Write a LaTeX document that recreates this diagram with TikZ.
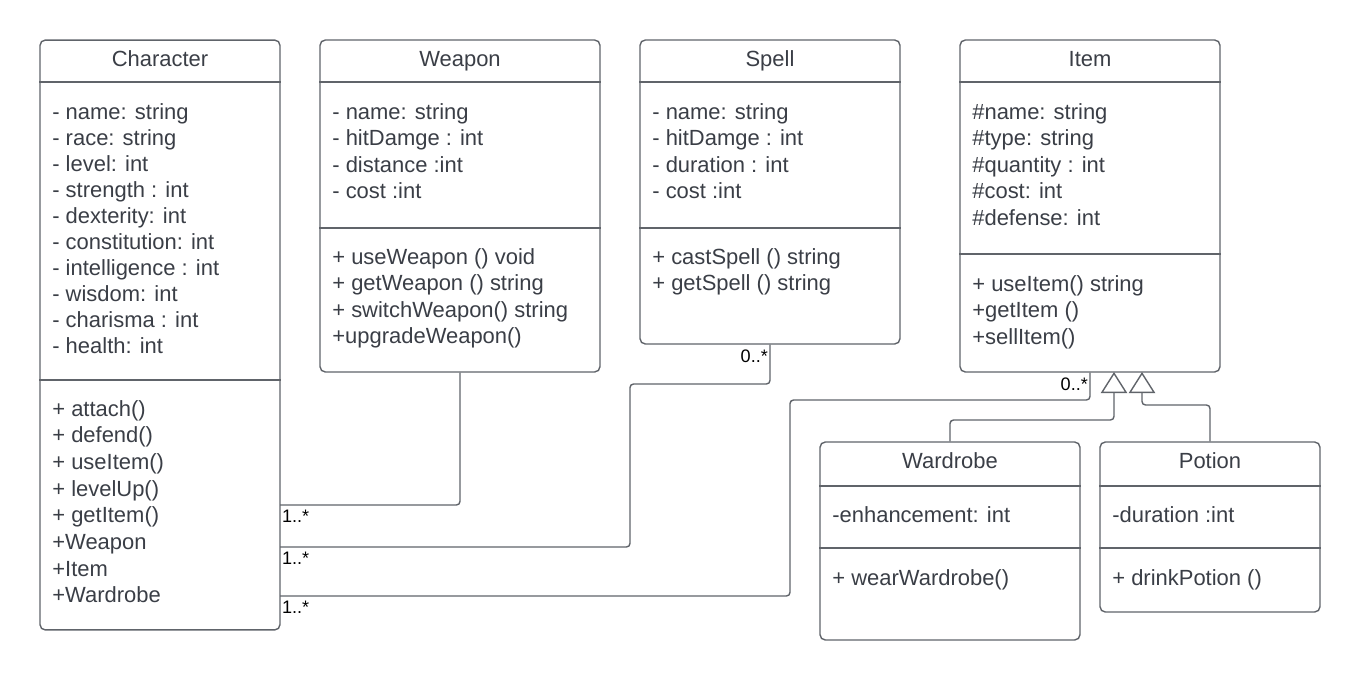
\documentclass[tikz,border=0pt]{standalone}
\usepackage{fontspec}
\setmainfont{Liberation Sans}
\usetikzlibrary{arrows.meta}

\definecolor{textc}{RGB}{58,62,70}
\definecolor{linec}{RGB}{96,100,106}

\tikzset{
  classbox/.style={draw=linec, line width=0.8pt, rounded corners=3pt, inner sep=0pt},
  title/.style={text=textc, font=\fontsize{12.5}{15}\selectfont, anchor=base, inner sep=0pt},
  member/.style={text=textc, font=\fontsize{12.5}{15}\selectfont, anchor=base west, inner sep=0pt},
  sep/.style={draw=linec, line width=0.8pt},
  assoc/.style={draw=linec, line width=0.8pt, rounded corners=2pt},
  inherit/.style={assoc, -{Triangle[open, length=12pt, width=15pt]}},
  mult/.style={font=\fontsize{10.3}{12}\selectfont, inner xsep=1pt, inner ysep=2.5pt}
}

\begin{document}
\begin{tikzpicture}[x=0.02cm, y=-0.02cm]
\useasboundingbox (0,0) rectangle (1360,680);

% class boxes
\node[classbox, minimum width=4.8cm, minimum height=11.8cm] (character) at (160,335) {};
\node[classbox, minimum width=5.6cm, minimum height=6.64cm] (weapon) at (460,206) {};
\node[classbox, minimum width=5.2cm, minimum height=6.08cm] (spell) at (770,192) {};
\node[classbox, minimum width=5.2cm, minimum height=6.64cm] (item) at (1090,206) {};
\node[classbox, minimum width=5.2cm, minimum height=3.96cm] (wardrobe) at (950,541) {};
\node[classbox, minimum width=4.4cm, minimum height=3.4cm] (potion) at (1210,527) {};

% titles
\node[title] (charname) at (160,66) {Character};
\node[title] (weapname) at (460,66) {Weapon};
\node[title] (spellname) at (770,66) {Spell};
\node[title] (itemname) at (1090,66) {Item};
\node[title] (wardname) at (950,468) {Wardrobe};
\node[title] (potname) at (1210,468) {Potion};

% compartments
\draw[sep] (character.west |- 0,82) -- (character.east |- 0,82);
\draw[sep] (character.west |- 0,380) -- (character.east |- 0,380);
\draw[sep] (weapon.west |- 0,82) -- (weapon.east |- 0,82);
\draw[sep] (weapon.west |- 0,228) -- (weapon.east |- 0,228);
\draw[sep] (spell.west |- 0,82) -- (spell.east |- 0,82);
\draw[sep] (spell.west |- 0,228) -- (spell.east |- 0,228);
\draw[sep] (item.west |- 0,82) -- (item.east |- 0,82);
\draw[sep] (item.west |- 0,254) -- (item.east |- 0,254);
\draw[sep] (wardrobe.west |- 0,486) -- (wardrobe.east |- 0,486);
\draw[sep] (wardrobe.west |- 0,548) -- (wardrobe.east |- 0,548);
\draw[sep] (potion.west |- 0,486) -- (potion.east |- 0,486);
\draw[sep] (potion.west |- 0,548) -- (potion.east |- 0,548);

% members
\foreach \t [count=\i] in {- name: string, - race: string, - level: int, - strength : int,
    - dexterity: int, - constitution: int, - intelligence : int, - wisdom: int,
    - charisma : int, - health: int}
  \node[member] (charattr\i) at (52,{119+26.1*(\i-1)}) {\t};
\foreach \t [count=\i] in {+ attach(), + defend(), + useItem(), + levelUp(),
    + getItem(), +Weapon, +Item, +Wardrobe}
  \node[member] (charop\i) at (52,{416+26.7*(\i-1)}) {\t};

\foreach \t [count=\i] in {- name: string, - hitDamge : int, - distance :int, - cost :int}
  \node[member] (weapattr\i) at (332,{119+26.6*(\i-1)}) {\t};
\foreach \t [count=\i] in {+ useWeapon () void, + getWeapon () string,
    + switchWeapon() string, +upgradeWeapon()}
  \node[member] (weapop\i) at (332,{264+26.6*(\i-1)}) {\t};

\foreach \t [count=\i] in {- name: string, - hitDamge : int, - duration : int, - cost :int}
  \node[member] (spellattr\i) at (652,{119+26.6*(\i-1)}) {\t};
\foreach \t [count=\i] in {+ castSpell () string, + getSpell () string}
  \node[member] (spellop\i) at (652,{264+26.6*(\i-1)}) {\t};

\foreach \t [count=\i] in {\#name: string, \#type: string, \#quantity : int,
    \#cost: int, \#defense: int}
  \node[member] (itemattr\i) at (972,{119+26.6*(\i-1)}) {\t};
\foreach \t [count=\i] in {+ useItem() string, +getItem (), +sellItem()}
  \node[member] (itemop\i) at (972,{291+26.6*(\i-1)}) {\t};

\node[member] (wardattr) at (832,522) {-enhancement: int};
\node[member] (wardop) at (832,585) {+ wearWardrobe()};
\node[member] (potattr) at (1112,522) {-duration :int};
\node[member] (potop) at (1112,585) {+ drinkPotion ()};

% associations
\coordinate (ch1) at (280,505);
\coordinate (ch2) at (280,547);
\coordinate (ch3) at (280,596);
\draw[assoc] (weapon.south) |- (ch1);
\draw[assoc] (spell.south) |- (630,384) |- (ch2);
\draw[assoc] (item.south) |- (790,400) |- (ch3);
\node[mult, anchor=north west] at (ch1) {1..*};
\node[mult, anchor=north west] at (ch2) {1..*};
\node[mult, anchor=north west] at (ch3) {1..*};
\node[mult, anchor=north east] at (spell.south) {0..*};
\node[mult, anchor=north east] at (item.south) {0..*};

% inheritance
\coordinate (itemA) at (1114,372);
\coordinate (itemB) at (1142,372);
\draw[inherit] (wardrobe.north) |- (1114,420) -- (itemA);
\draw[inherit] (potion.north) |- (1142,405) -- (itemB);
\end{tikzpicture}
\end{document}
